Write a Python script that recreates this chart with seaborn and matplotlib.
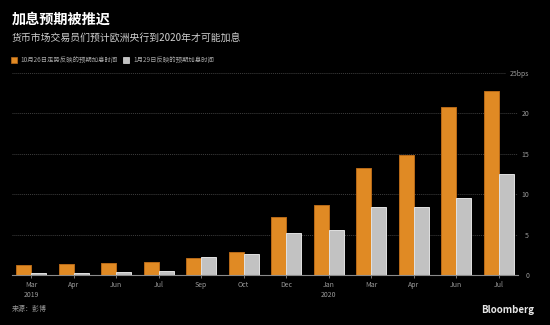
import matplotlib
matplotlib.use("Agg")
import matplotlib.pyplot as plt
from matplotlib.patches import Patch
import pandas as pd
import seaborn as sns

# Expected ECB hike (bps) priced for each meeting month
periods = ["2019-03", "2019-04", "2019-06", "2019-07", "2019-09", "2019-10",
           "2019-12", "2020-01", "2020-03", "2020-04", "2020-06", "2020-07"]
month_labels = ["Mar", "Apr", "Jun", "Jul", "Sep", "Oct",
                "Dec", "Jan", "Mar", "Apr", "Jun", "Jul"]
year_labels = {0: "2019", 7: "2020"}
oct26 = [1.2, 1.3, 1.45, 1.57, 2.07, 2.81, 7.15, 8.63, 13.3, 14.8, 20.85, 22.75]
jan29 = [0.2, 0.2, 0.33, 0.45, 2.19, 2.64, 5.16, 5.53, 8.42, 8.47, 9.5, 12.47]
series_names = ["10月26日走势反映的预期加息时间", "1月29日反映的预期加息时间"]
y_ticks = [0, 5, 10, 15, 20, 25]
y_tick_labels = ["0", "5", "10", "15", "20", "25bps"]

title = "加息预期被推迟"
subtitle = "货币市场交易员们预计欧洲央行到2020年才可能加息"
source = "来源：彭博"

ORANGE = "#E08A24"
ORANGE_EDGE = "#B86A18"
GRAY = "#C2C2C2"
GRAY_EDGE = "#E2E2E2"
TEXT_GRAY = "#9A9A9A"

df = pd.DataFrame({
    "period": periods * 2,
    "bps": oct26 + jan29,
    "series": [series_names[0]] * len(periods) + [series_names[1]] * len(periods),
})

sns.set_style("dark")
plt.rcParams["font.family"] = ["Noto Sans CJK SC", "DejaVu Sans"]

fig = plt.figure(figsize=(5.5, 3.25), dpi=100, facecolor="black")
ax = fig.add_axes([12 / 550, 50 / 325, 506 / 550, 202 / 325])
ax.set_facecolor("black")

sns.barplot(data=df, x="period", y="bps", hue="series", order=periods,
            hue_order=series_names, palette=[ORANGE, GRAY], width=0.7,
            saturation=1, legend=False, ax=ax, zorder=3)

for container, edge in zip(ax.containers, [ORANGE_EDGE, GRAY_EDGE]):
    for bar in container:
        bar.set_edgecolor(edge)
        bar.set_linewidth(0.7)

ax.set_xlim(-0.45, len(periods) - 0.55)
ax.set_ylim(0, 25)

# dotted gridlines
for v in y_ticks[1:]:
    ax.axhline(v, xmin=0, xmax=0.975 if v == y_ticks[-1] else 1.0,
               color="#3e3e3e", lw=0.7, ls=(0, (1, 1)), zorder=1)
ax.grid(False)

for name, spine in ax.spines.items():
    spine.set_visible(name == "bottom")
ax.spines["bottom"].set_color("#8a8a8a")
ax.spines["bottom"].set_linewidth(0.8)
ax.spines["bottom"].set_zorder(4)

xt = [m + ("\n" + year_labels[i] if i in year_labels else "")
      for i, m in enumerate(month_labels)]
ax.set_xticks(range(len(periods)))
ax.set_xticklabels(xt, fontsize=5, color=TEXT_GRAY, linespacing=1.3)
ax.tick_params(axis="x", length=2.5, width=0.6, color="#8a8a8a", pad=2,
               bottom=True, direction="out")

ax.yaxis.tick_right()
ax.set_yticks(y_ticks)
ax.set_yticklabels(y_tick_labels, fontsize=5, color=TEXT_GRAY, ha="right")
ax.tick_params(axis="y", length=0, pad=8, right=True, left=False)
ax.set_xlabel("")
ax.set_ylabel("")

fig.text(12 / 550, 1 - 20 / 325, title, fontsize=10.2, fontweight="bold",
         color="white", va="center", ha="left")
fig.text(12 / 550, 1 - 38 / 325, subtitle, fontsize=7.1, color="#d0d0d0",
         va="center", ha="left")

handles = [Patch(facecolor=ORANGE, edgecolor=ORANGE_EDGE, lw=0.5),
           Patch(facecolor=GRAY, edgecolor=GRAY_EDGE, lw=0.5)]
fig.legend(handles=handles, labels=series_names, loc="center left",
           bbox_to_anchor=(11 / 550, 1 - 60 / 325), ncol=2, frameon=False,
           fontsize=4.6, handlelength=0.95, handleheight=0.95,
           handletextpad=0.6, columnspacing=0.8, borderpad=0,
           borderaxespad=0, labelcolor="#a8a8a8")

fig.text(12 / 550, 1 - 309 / 325, source, fontsize=5, color=TEXT_GRAY,
         va="center", ha="left")
fig.text(534 / 550, 1 - 310 / 325, "Bloomberg", fontsize=7, fontweight="bold",
         color="#e6e6e6", va="center", ha="right")

fig.savefig("out.png", dpi=100, facecolor="black")
